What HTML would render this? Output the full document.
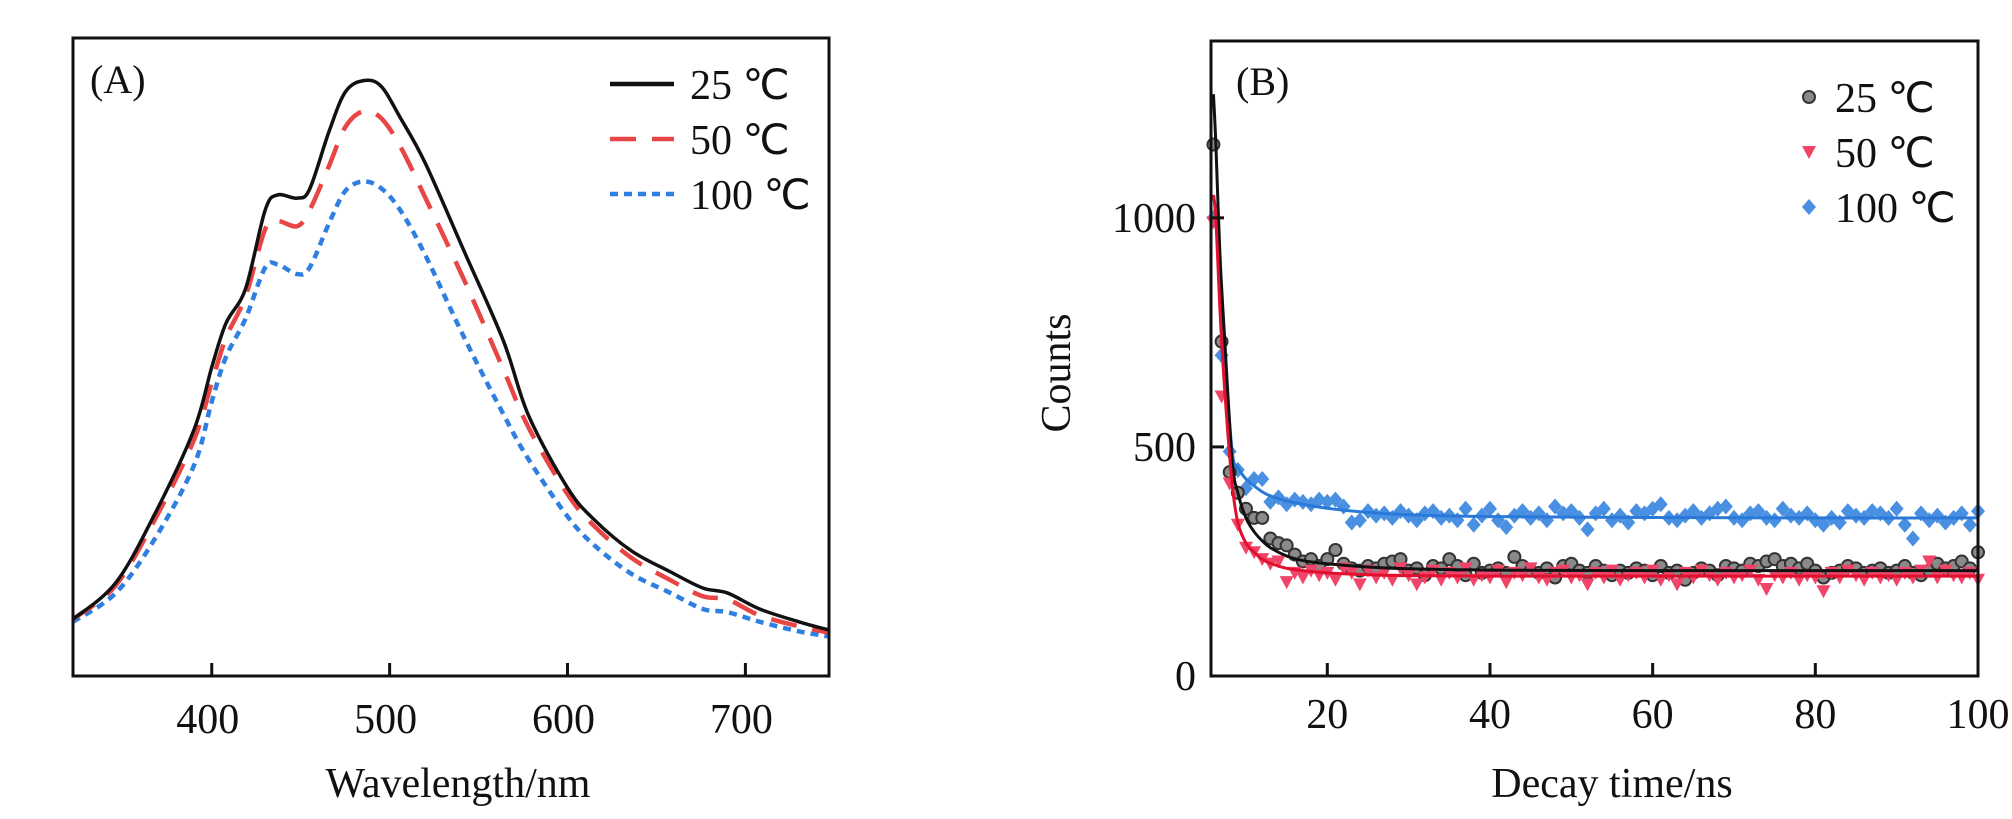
<!DOCTYPE html>
<html><head><meta charset="utf-8"><style>
html,body{margin:0;padding:0;background:#fff;}
svg{display:block;font-family:"Liberation Serif",serif;}
</style></head><body>
<svg id="fig" width="2012" height="819" viewBox="0 0 2012 819" xmlns="http://www.w3.org/2000/svg"></svg>
<script>
// ---------- Panel A data ----------
const wlA = [322,346,368,390,400,408,419,430,437,448,455,466,475,485,495,506,520,542,564,578,600,615,636,658,676,690,708,730,747];
const spec25 = [8.9,14.6,25.4,38.6,48.4,55.3,60.7,73,75.4,74.9,76.3,85.4,91.5,93.3,92.5,87.5,80.4,66.5,52.5,40.9,29.5,24.5,19.6,16.3,13.8,13,10.5,8.5,7.2];
const spec50 = [8.9,14.2,24.5,37,46,53,59.5,70,71.3,70.5,73,80,86,88.5,87.5,83,75,62,48,39,28.5,23.5,18.5,15,12.5,12,9.5,7.8,6.8];
const spec100 = [8.5,13,21.5,33,43,50,56,64,64.5,63,64,71,76,77.5,76.5,73,66,53,41,34,25,20.5,16,13,10.5,10,8.5,7,6.2];
const ticksA = [400,500,600,700];
// ---------- Panel B data ----------
const timeB = [6,7,8,9,10,11,12,13,14,15,16,17,18,19,20,21,22,23,24,25,26,27,28,29,30,31,32,33,34,35,36,37,38,39,40,41,42,43,44,45,46,47,48,49,50,51,52,53,54,55,56,57,58,59,60,61,62,63,64,65,66,67,68,69,70,71,72,73,74,75,76,77,78,79,80,81,82,83,84,85,86,87,88,89,90,91,92,93,94,95,96,97,98,99,100];
const cnt25 = [1160,730,445,400,365,345,345,300,290,285,265,250,255,240,255,275,245,235,230,240,235,245,250,255,230,235,220,240,235,255,240,220,245,225,230,235,225,260,240,230,225,235,215,240,245,230,225,240,230,220,230,225,235,230,220,240,225,230,210,225,235,230,220,240,235,230,245,240,250,255,240,245,235,245,230,215,225,230,240,235,225,230,235,225,230,240,225,220,230,245,235,240,250,235,270];
const cnt50 = [990,610,420,330,280,270,255,245,250,205,225,215,230,220,225,210,235,225,200,230,215,225,210,235,220,200,215,230,210,225,215,235,210,220,215,230,205,225,220,235,215,210,225,230,215,220,200,225,215,230,210,220,225,215,230,210,220,200,225,215,230,220,210,225,215,220,230,210,190,220,215,225,210,220,215,185,225,215,230,220,210,225,215,220,210,225,215,230,250,215,230,220,215,225,210];
const cnt100 = [1000,700,490,450,410,430,430,380,390,375,385,380,375,385,380,385,370,335,340,360,350,355,345,360,350,340,355,360,345,350,340,365,330,350,365,340,325,350,360,345,355,340,370,355,360,345,320,355,365,340,350,335,360,355,365,375,345,340,350,360,345,355,365,370,345,340,355,360,345,340,365,350,345,355,340,330,345,335,360,350,345,360,355,345,365,330,300,355,340,350,335,345,355,330,360];
const fitT = [6,6.3,6.8,7.4,8.3,9,10,11,12,13,15,17,20,25,30,40,60,80,100];
const fit25 = [1270,1160,920,730,470,400,345,315,295,280,262,252,245,238,234,231,230,230,230];
const fit50 = [1050,1000,800,620,420,335,290,270,255,246,235,230,225,221,219,218,218,218,218];
const fit100 = [1050,1000,850,700,490,455,430,415,402,393,382,375,366,357,352,348,346,345,345];
const ticksBx = [20,40,60,80,100];
const ticksBy = [0,500,1000];

const svg = document.getElementById('fig');
const NS = 'http://www.w3.org/2000/svg';
function mk(tag, attrs, parent){const e=document.createElementNS(NS,tag);for(const k in attrs)e.setAttribute(k,attrs[k]);(parent||svg).appendChild(e);return e;}
function smooth(pts){let d='M'+pts[0][0]+','+pts[0][1];for(let i=0;i<pts.length-1;i++){const p0=pts[Math.max(0,i-1)],p1=pts[i],p2=pts[i+1],p3=pts[Math.min(pts.length-1,i+2)];const c1=[p1[0]+(p2[0]-p0[0])/6,p1[1]+(p2[1]-p0[1])/6],c2=[p2[0]-(p3[0]-p1[0])/6,p2[1]-(p3[1]-p1[1])/6];d+=' C'+c1[0]+','+c1[1]+' '+c2[0]+','+c2[1]+' '+p2[0]+','+p2[1];}return d;}

// ---------- Panel A ----------
const A={l:73,r:829,t:38,b:676,x0:322,x1:747,y0:0,y1:100};
const xA=v=>A.l+(v-A.x0)/(A.x1-A.x0)*(A.r-A.l);
const yA=v=>A.b-(v-A.y0)/(A.y1-A.y0)*(A.b-A.t);
const gA=mk('g',{});


const seriesA=[[spec100,'#2f7fe0','8 6','curve-100c'],[spec50,'#e84545','26 16','curve-50c'],[spec25,'#111','','curve-25c']];
seriesA.forEach(s=>{const p=mk('path',{d:smooth(wlA.map((w,i)=>[xA(w),yA(s[0][i])])),fill:'none',stroke:s[1],'stroke-width':s[2]?4.5:3.5,'stroke-dasharray':s[2]},gA);

});
const frA=mk('rect',{x:A.l,y:A.t,width:A.r-A.l,height:A.b-A.t,fill:'none',stroke:'#111','stroke-width':3},gA);


ticksA.forEach(t=>{mk('line',{x1:xA(t),x2:xA(t),y1:A.b,y2:A.b-13,stroke:'#111','stroke-width':3},gA);
const tx=mk('text',{x:xA(t)-4,y:733,'font-size':42,'text-anchor':'middle',fill:'#111'},gA);tx.textContent=t;

});
const xtA=mk('text',{x:458,y:797,'font-size':42,'text-anchor':'middle',fill:'#111'},gA);xtA.textContent='Wavelength/nm';


const lbA=mk('text',{x:90,y:93,'font-size':40,fill:'#111'},gA);lbA.textContent='(A)';


[['25 ℃','#111',''],['50 ℃','#e84545','26 16'],['100 ℃','#2f7fe0','8 6']].forEach((e,i)=>{const y=84+i*55;
const g=mk('g',{},gA);


mk('line',{x1:610,x2:674,y1:y,y2:y,stroke:e[1],'stroke-width':4.5,'stroke-dasharray':e[2]},g);
const t=mk('text',{x:690,y:y+15,'font-size':42,fill:'#111'},g);t.textContent=e[0];});

// ---------- Panel B ----------
const B={l:1211,r:1978,t:41,b:676,x0:5.7,x1:100,y0:0,y1:1386};
const xB=v=>B.l+(v-B.x0)/(B.x1-B.x0)*(B.r-B.l);
const yB=v=>B.b-(v-B.y0)/(B.y1-B.y0)*(B.b-B.t);
const gB=mk('g',{});


function marker(type,cx,cy,parent){
 if(type==='c') return mk('circle',{cx:cx,cy:cy,r:6,fill:'#8a8a8a',stroke:'#333','stroke-width':2},parent);
 if(type==='t') return mk('path',{d:`M${cx-7},${cy-6} L${cx+7},${cy-6} L${cx},${cy+7} Z`,fill:'#f04468'},parent);
 return mk('path',{d:`M${cx},${cy-8} L${cx+7},${cy} L${cx},${cy+8} L${cx-7},${cy} Z`,fill:'#4a90e2'},parent);
}
const seriesB=[[cnt100,'d','markers-100c'],[cnt25,'c','markers-25c'],[cnt50,'t','markers-50c']];
seriesB.forEach(s=>{const g=mk('g',{},gB);


timeB.forEach((t,i)=>marker(s[1],xB(t),yB(s[0][i]),g));});
[[fit100,'#2a78d8','fit-100c'],[fit25,'#111','fit-25c'],[fit50,'#e0102e','fit-50c']].forEach(s=>{
const p=mk('path',{d:smooth(fitT.map((t,i)=>[xB(t),yB(s[0][i])])),fill:'none',stroke:s[1],'stroke-width':3},gB);

});
const frB=mk('rect',{x:B.l,y:B.t,width:B.r-B.l,height:B.b-B.t,fill:'none',stroke:'#111','stroke-width':3},gB);


ticksBx.forEach(t=>{mk('line',{x1:xB(t),x2:xB(t),y1:B.b,y2:B.b-13,stroke:'#111','stroke-width':3},gB);
const tx=mk('text',{x:xB(t),y:728,'font-size':42,'text-anchor':'middle',fill:'#111'},gB);tx.textContent=t;

});
ticksBy.forEach(t=>{mk('line',{x1:B.l,x2:B.l+13,y1:yB(t),y2:yB(t),stroke:'#111','stroke-width':3},gB);
const tx=mk('text',{x:1196,y:yB(t)+14,'font-size':42,'text-anchor':'end',fill:'#111'},gB);tx.textContent=t;

});
const xtB=mk('text',{x:1612,y:797,'font-size':42,'text-anchor':'middle',fill:'#111'},gB);xtB.textContent='Decay time/ns';


const ytB=mk('text',{x:0,y:0,'font-size':42,'text-anchor':'middle',fill:'#111',transform:'translate(1070,373) rotate(-90)'},gB);ytB.textContent='Counts';


const lbB=mk('text',{x:1236,y:95,'font-size':40,fill:'#111'},gB);lbB.textContent='(B)';


[['25 ℃','c'],['50 ℃','t'],['100 ℃','d']].forEach((e,i)=>{const y=97+i*55;
const g=mk('g',{},gB);


marker(e[1],1809,y,g);
const t=mk('text',{x:1835,y:y+15,'font-size':42,fill:'#111'},g);t.textContent=e[0];});
</script>
</body></html>
